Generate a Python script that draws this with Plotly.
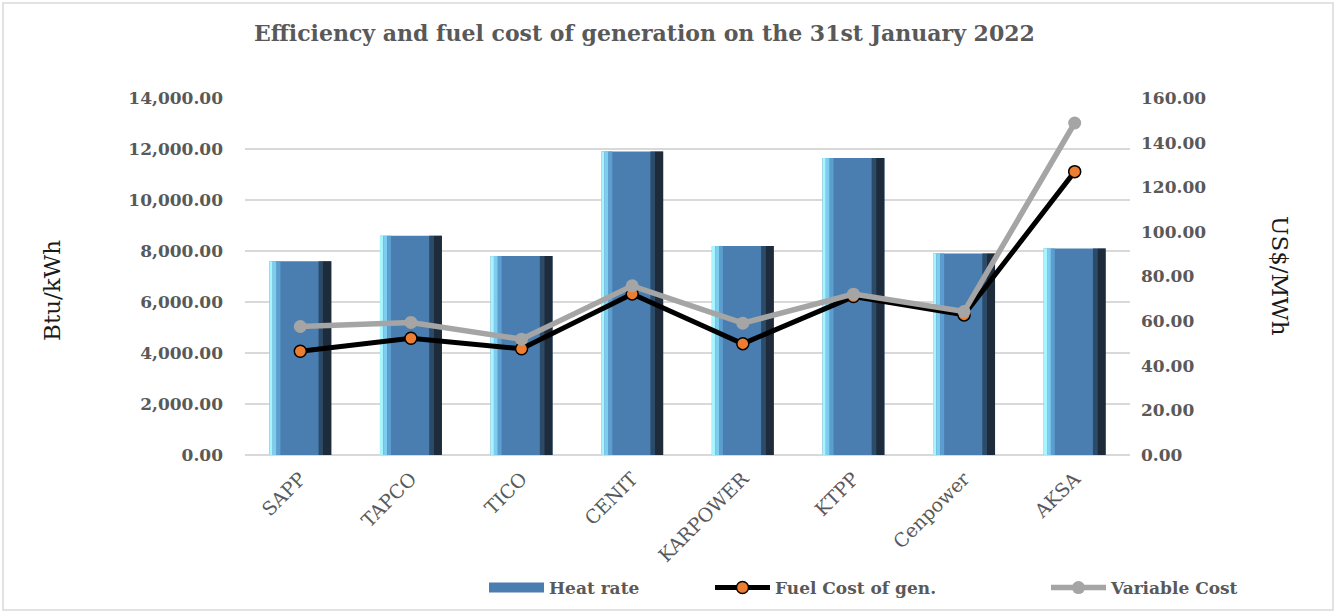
import plotly.graph_objects as go

plants = ["SAPP", "TAPCO", "TICO", "CENIT", "KARPOWER", "KTPP", "Cenpower", "AKSA"]
heat_rate = [7600, 8600, 7800, 11900, 8200, 11650, 7900, 8100]
fuel_cost = [46.5, 52.3, 47.6, 72.2, 49.9, 71.0, 62.8, 127.0]
variable_cost = [57.6, 59.4, 51.9, 75.8, 59.1, 72.1, 64.3, 148.8]

FONT = "DejaVu Serif"
GREY = "#595959"
BW = 0.56
L, R, T, B = 245, 207, 98, 158
PW, PH = 1337 - L - R, 613 - T - B


def px_x(px):
    return (px - L) / PW


def px_y(py):
    return (613 - B - py) / PH


fig = go.Figure()
# main bar
fig.add_trace(go.Bar(x=plants, y=heat_rate, name="Heat rate", width=BW, showlegend=False,
                     marker=dict(color="#4A7EB0", line=dict(width=0)), yaxis="y"))
# shading strips (bevel look)
strips = [(-BW/2, 0.03, "#A8F4FF"), (-BW/2 + 0.03, 0.035, "#7CCDEE"),
          (-BW/2 + 0.065, 0.035, "#5C9ECF"),
          (BW/2 - 0.115, 0.04, "#2C4B69"), (BW/2 - 0.075, 0.075, "#1D2B3B")]
for off, w, c in strips:
    fig.add_trace(go.Bar(x=plants, y=heat_rate, width=w, offset=off, showlegend=False,
                         hoverinfo="skip", marker=dict(color=c, line=dict(width=0)), yaxis="y"))

fig.add_trace(go.Scatter(x=plants, y=fuel_cost, name="Fuel Cost of gen.", yaxis="y2",
                         mode="lines+markers", line=dict(color="black", width=5),
                         marker=dict(color="#ED7D31", size=12, line=dict(color="black", width=1.5)),
                         legend="legend2"))
fig.add_trace(go.Scatter(x=plants, y=variable_cost, name="Variable Cost", yaxis="y2",
                         mode="lines+markers", line=dict(color="#A5A5A5", width=5.5),
                         marker=dict(color="#A5A5A5", size=13), legend="legend3"))
# legend-only entry for the bars
fig.add_trace(go.Scatter(x=[None], y=[None], name="Heat rate", mode="lines",
                         line=dict(color="#4A7EB0", width=12), legend="legend", hoverinfo="skip"))

legend_font = dict(family=FONT, size=17, color=GREY, weight="bold")
leg_common = dict(orientation="h", yanchor="middle", y=px_y(588), xanchor="left",
                  font=legend_font, itemwidth=55, bgcolor="rgba(0,0,0,0)")

fig.update_layout(
    width=1337, height=613,
    paper_bgcolor="white", plot_bgcolor="white",
    margin=dict(l=L, r=R, t=T, b=B, autoexpand=False),
    barmode="overlay", bargap=0.44,
    font=dict(family=FONT, color=GREY),
    title=dict(text="Efficiency and fuel cost of generation on the 31st January 2022",
               x=0.482, xanchor="center", y=0.945, yanchor="middle",
               font=dict(family=FONT, size=22, color=GREY, weight="bold")),
    xaxis=dict(tickangle=-45, tickfont=dict(family=FONT, size=19, color=GREY),
               showgrid=False, showline=False, ticks="", automargin=False,
               ticklabelstandoff=8),
    yaxis=dict(range=[0, 14000], dtick=2000, tickformat=",.2f",
               tickfont=dict(family=FONT, size=17, color=GREY, weight="bold"),
               gridcolor="#D9D9D9", gridwidth=1.5, zeroline=True, zerolinecolor="#D9D9D9",
               zerolinewidth=1.5, ticklabelstandoff=21, automargin=False),
    yaxis2=dict(range=[0, 160], dtick=20, tickformat=",.2f", overlaying="y", side="right",
                tickfont=dict(family=FONT, size=17, color=GREY, weight="bold"), showgrid=False,
                zeroline=False, ticklabelstandoff=10, automargin=False),
    legend=dict(x=px_x(484), **leg_common),
    legend2=dict(x=px_x(710), **leg_common),
    legend3=dict(x=px_x(1046), **leg_common),
    annotations=[
        dict(text="Btu/kWh", xref="paper", yref="paper", x=px_x(52), y=px_y(291),
             xanchor="center", yanchor="middle", textangle=-90,
             showarrow=False, font=dict(family=FONT, size=23, color="#1a1a1a")),
        dict(text="US$/MWh", xref="paper", yref="paper", x=px_x(1280), y=px_y(276),
             xanchor="center", yanchor="middle", textangle=90,
             showarrow=False, font=dict(family=FONT, size=23, color="#1a1a1a")),
    ],
    shapes=[dict(type="rect", xref="paper", yref="paper",
                 x0=px_x(3), x1=px_x(1333), y0=px_y(610), y1=px_y(3),
                 line=dict(color="#D9D9D9", width=1.5), fillcolor="rgba(0,0,0,0)", layer="below")],
)

fig.write_html("out.html", config={"displayModeBar": False},
               post_script="document.body.style.margin='0';document.body.style.overflow='hidden';")
